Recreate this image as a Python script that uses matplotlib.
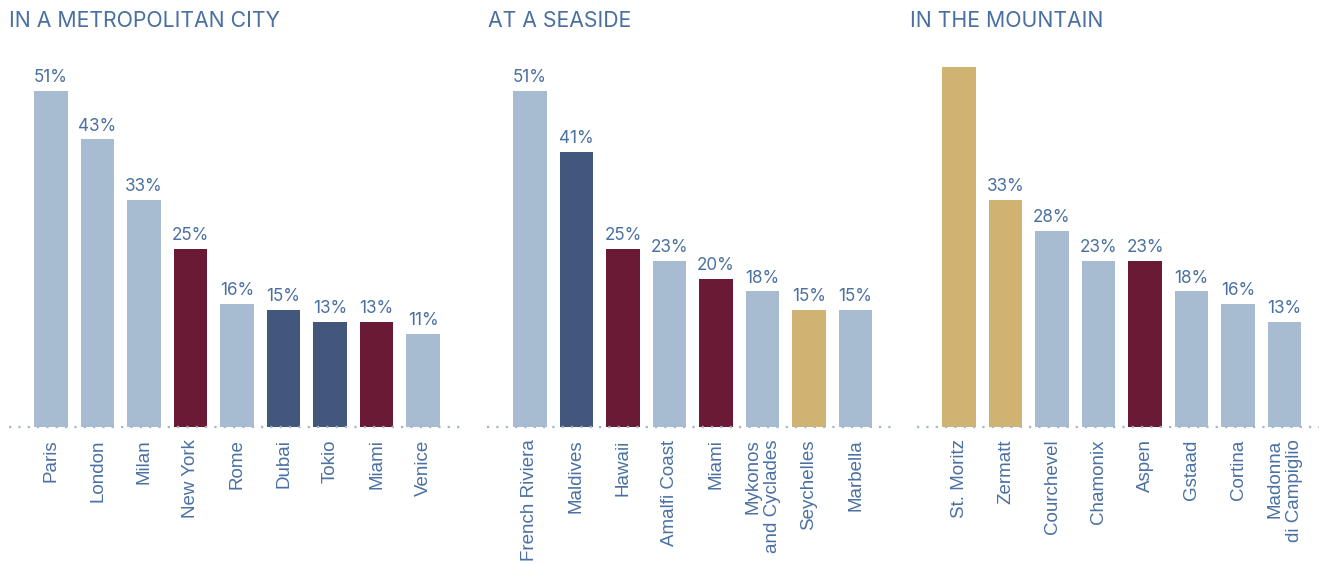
import matplotlib.pyplot as plt

# data
city_names = ['Paris', 'London', 'Milan', 'New York', 'Rome', 'Dubai', 'Tokio', 'Miami', 'Venice']
city_values = [51, 43, 33, 25, 16, 15, 13, 13, 11]
city_groups = ['l', 'l', 'l', 'm', 'l', 'n', 'n', 'm', 'l']

sea_names = ['French Riviera', 'Maldives', 'Hawaii', 'Amalfi Coast', 'Miami',
             'Mykonos\nand Cyclades', 'Seychelles', 'Marbella']
sea_values = [51, 41, 25, 23, 20, 18, 15, 15]
sea_groups = ['l', 'n', 'm', 'l', 'm', 'l', 'g', 'l']

mountain_names = ['St. Moritz', 'Zermatt', 'Courchevel', 'Chamonix', 'Aspen',
                  'Gstaad', 'Cortina', 'Madonna\ndi Campiglio']
mountain_values = [55, 33, 28, 23, 23, 18, 16, 13]
mountain_groups = ['g', 'g', 'l', 'l', 'm', 'l', 'l', 'l']

titles = ['IN A METROPOLITAN CITY', 'AT A SEASIDE', 'IN THE MOUNTAIN']

colors = {'l': '#A8BCD1', 'n': '#42577B', 'm': '#6B1A36', 'g': '#D0B373'}
text_col = '#4A70A2'

W, H = 1319, 564
fig = plt.figure(figsize=(W / 100, H / 100), dpi=100)

px_unit = 46.5
y_bottom = 427
y_top = 58
# the value axis does not start at zero in the original
y0 = -4.3
ymax = 56.4

panels = [
    (city_names, city_values, city_groups, 51, -0.9, 8.9, 9),
    (sea_names, sea_values, sea_groups, 530, -0.925, 7.9, 488),
    (mountain_names, mountain_values, mountain_groups, 959, -0.9, (W - 959) / px_unit, 910),
]

for i, (names, values, groups, c0, xmin, xmax, tx) in enumerate(panels):
    left = c0 + xmin * px_unit
    width = (xmax - xmin) * px_unit
    ax = fig.add_axes([left / W, (H - y_bottom) / H, width / W, (y_bottom - y_top) / H])
    x = list(range(len(values)))
    ax.bar(x, [v - y0 for v in values], bottom=y0, width=0.73,
           color=[colors[g] for g in groups], zorder=2)
    for xi, v in zip(x, values):
        if v + 3.5 < ymax:
            ax.text(xi, v + 0.8, f'{v}%', ha='center', va='bottom', fontsize=12.3,
                    family='Inter', color=text_col)
    ax.axhline(y0, color='#9DB6D6', lw=1.6, ls=(0, (1, 3.2)), zorder=3, clip_on=False)
    ax.set_xlim(xmin, xmax)
    ax.set_ylim(y0, ymax)
    ax.set_xticks(x)
    ax.set_xticklabels(names, rotation=90, fontsize=13.5, family='Liberation Sans',
                       color=text_col, multialignment='right')
    ax.tick_params(axis='x', length=0, pad=9)
    ax.set_yticks([])
    for s in ax.spines.values():
        s.set_visible(False)
    fig.text(tx / W, 1 - 21 / H, titles[i], ha='left', va='center', fontsize=15.3,
             family='Inter', color=text_col)

plt.savefig('out.png', dpi=100)
